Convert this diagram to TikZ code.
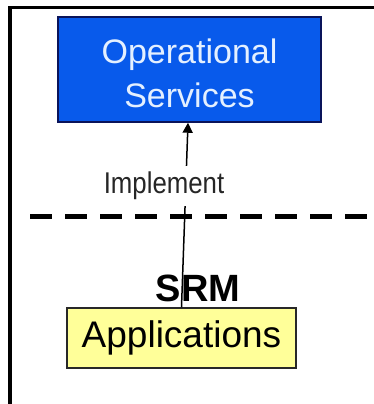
\documentclass[tikz,border=0pt]{standalone}
\usepackage{fontspec}
\setmainfont{Liberation Sans}
\usetikzlibrary{arrows.meta,calc}

\definecolor{opsblue}{RGB}{8,90,235}
\definecolor{opsedge}{RGB}{10,20,90}
\definecolor{opstext}{RGB}{228,240,255}
\definecolor{appyellow}{RGB}{255,255,153}
\definecolor{appedge}{RGB}{40,40,40}

\tikzset{
  opsbox/.style={draw=opsedge, line width=1.5pt, fill=opsblue,
    minimum width=263pt, minimum height=105pt, inner sep=0pt},
  opslabel/.style={text=opstext, align=center, inner sep=0pt,
    font=\fontsize{34}{44}\selectfont},
  appbox/.style={draw=appedge, line width=1.5pt, fill=appyellow,
    minimum width=229pt, minimum height=60pt, inner sep=0pt,
    font=\fontsize{37}{40}\selectfont},
  layerlabel/.style={inner sep=0pt, font=\fontsize{38}{42}\selectfont\bfseries},
  linklabel/.style={fill=white, inner xsep=2pt, inner ysep=6pt,
    text=black!85, font=\fontsize{30}{32}\selectfont},
  link/.style={line width=1.5pt, -{Triangle[width=10pt,length=10pt]}},
  divider/.style={line width=5pt, dash pattern=on 22pt off 13pt},
  frame/.style={line width=3.5pt}
}

\begin{document}
\begin{tikzpicture}[x=1pt,y=-1pt]
  \useasboundingbox (0,0) rectangle (374,404);

  % outer frame: top and left edges only
  \coordinate (ftl) at (10,7.5);
  \coordinate (ftr) at (374,7.5);
  \coordinate (fbl) at (10,404);
  \draw[frame] (fbl) -- (ftl) -- (ftr);

  % boxes
  \node[opsbox] (ops) at (189.5,69.5) {};
  \node[opslabel] (opstxt) at ($(ops.center)+(0,4)$) {Operational\\Services};
  \node[appbox] (app) at (181.5,338) {Applications};
  \node[layerlabel] (srm) at (198,288.5) {SRM};

  % connector with its label
  \draw[link] (app.north) -- ($(ops.south)+(-1.5,0)$);
  \node[linklabel] (impl) at (164,186) {\scalebox{0.86}[1]{Implement}};

  % layer boundary
  \coordinate (dl) at (30,216);
  \coordinate (dr) at (370,216);
  \draw[divider] (dl) -- (dr);
\end{tikzpicture}
\end{document}
